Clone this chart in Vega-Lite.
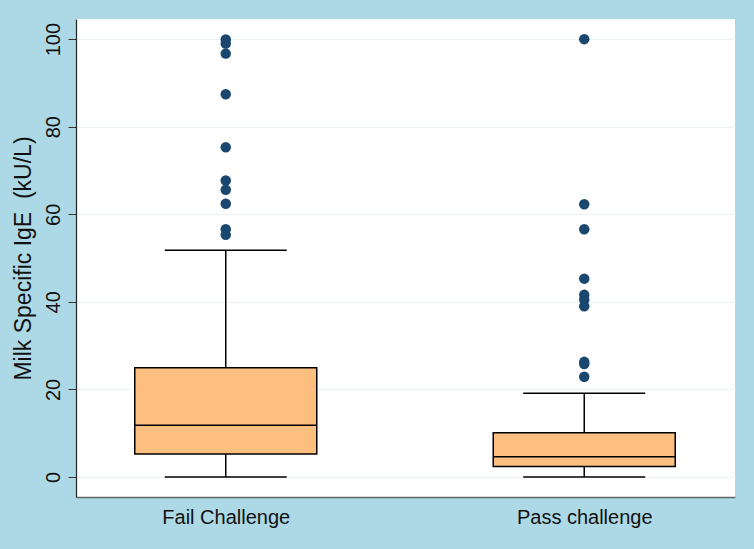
{
  "$schema": "https://vega.github.io/schema/vega-lite/v6.json",
  "width": 659,
  "height": 478,
  "autosize": {"type": "none"},
  "padding": {"left": 76, "top": 19, "right": 19, "bottom": 52},
  "background": "#add8e6",
  "config": {
    "view": {"fill": "white", "stroke": null},
    "font": "Liberation Sans"
  },
  "datasets": {
    "stats": [
      {"grp": 1, "lo": 0, "q1": 5.25, "med": 11.8, "q3": 24.95, "hi": 51.8},
      {"grp": 2, "lo": 0, "q1": 2.4, "med": 4.6, "q3": 10.1, "hi": 19.1}
    ],
    "outliers": [
      {"grp": 1, "v": 99.9}, {"grp": 1, "v": 99.0}, {"grp": 1, "v": 96.7},
      {"grp": 1, "v": 87.4}, {"grp": 1, "v": 75.3}, {"grp": 1, "v": 67.7},
      {"grp": 1, "v": 65.6}, {"grp": 1, "v": 62.4}, {"grp": 1, "v": 56.6},
      {"grp": 1, "v": 55.3},
      {"grp": 2, "v": 100}, {"grp": 2, "v": 62.3}, {"grp": 2, "v": 56.6},
      {"grp": 2, "v": 45.3}, {"grp": 2, "v": 41.6}, {"grp": 2, "v": 40.5},
      {"grp": 2, "v": 39.0}, {"grp": 2, "v": 26.3}, {"grp": 2, "v": 25.8},
      {"grp": 2, "v": 22.9}
    ]
  },
  "layer": [
    {
      "data": {"name": "stats"},
      "mark": {"type": "rule", "stroke": "black", "strokeWidth": 1.5},
      "encoding": {
        "x": {
          "field": "grp", "type": "quantitative",
          "scale": {"domain": [0.5962, 2.4066], "nice": false, "zero": false},
          "axis": {
            "values": [1, 2],
            "labelExpr": "datum.value == 1 ? 'Fail Challenge' : 'Pass challenge'",
            "grid": false, "ticks": false,
            "labelFontSize": 20, "labelColor": "#111",
            "labelPadding": 10,
            "domainColor": "#666", "domainWidth": 1.5,
            "title": null
          }
        },
        "y": {
          "field": "lo", "type": "quantitative",
          "scale": {"domain": [-4.57, 104.6], "nice": false, "zero": false},
          "axis": {
            "values": [0, 20, 40, 60, 80, 100],
            "title": "Milk Specific IgE\u00a0\u00a0(kU/L)",
            "titleFontSize": 23, "titleFontWeight": "normal", "titleColor": "#111",
            "titlePadding": 8,
            "labelAngle": -90, "labelFontSize": 20, "labelColor": "#111",
            "labelPadding": 5,
            "tickSize": 8, "tickColor": "#333", "tickWidth": 1,
            "domainColor": "#222", "domainWidth": 1.2,
            "grid": true, "gridColor": "#eaf2f3", "gridWidth": 1.2
          }
        },
        "y2": {"field": "hi"}
      }
    },
    {
      "data": {"name": "stats"},
      "mark": {"type": "bar", "size": 182, "fill": "#fdbf80", "stroke": "black", "strokeWidth": 1.5, "orient": "vertical"},
      "encoding": {
        "x": {"field": "grp", "type": "quantitative"},
        "y": {"field": "q1", "type": "quantitative"},
        "y2": {"field": "q3"}
      }
    },
    {
      "data": {"name": "stats"},
      "mark": {"type": "tick", "orient": "horizontal", "size": 182, "thickness": 1.5, "color": "black", "opacity": 1},
      "encoding": {
        "x": {"field": "grp", "type": "quantitative"},
        "y": {"field": "med", "type": "quantitative"}
      }
    },
    {
      "data": {"name": "stats"},
      "mark": {"type": "tick", "orient": "horizontal", "size": 122, "thickness": 1.5, "color": "black", "opacity": 1},
      "encoding": {
        "x": {"field": "grp", "type": "quantitative"},
        "y": {"field": "hi", "type": "quantitative"}
      }
    },
    {
      "data": {"name": "stats"},
      "mark": {"type": "tick", "orient": "horizontal", "size": 122, "thickness": 1.5, "color": "black", "opacity": 1},
      "encoding": {
        "x": {"field": "grp", "type": "quantitative"},
        "y": {"field": "lo", "type": "quantitative"}
      }
    },
    {
      "data": {"name": "outliers"},
      "mark": {"type": "circle", "size": 110, "color": "#1a476f", "opacity": 1},
      "encoding": {
        "x": {"field": "grp", "type": "quantitative"},
        "y": {"field": "v", "type": "quantitative"}
      }
    }
  ]
}
